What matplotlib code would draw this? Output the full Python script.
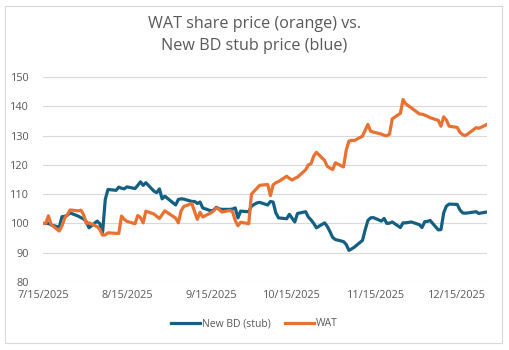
import matplotlib
matplotlib.use('Agg')
import matplotlib.pyplot as plt
import matplotlib.dates as mdates
from matplotlib.patches import Rectangle
import pandas as pd

# trading days, 7/15/2025 .. 12/26/2025
holidays = ['2025-09-01', '2025-11-27', '2025-12-25']
dates = pd.bdate_range('2025-07-15', '2025-12-26', freq='C', holidays=holidays)

stub = [
    # Jul
    100.0, 100.0, 100.0, 99.5, 98.7, 102.3, 102.4, 102.8, 103.6, 102.5, 102.0, 101.5, 100.6,
    # Aug
    98.5, 100.8, 99.9, 96.8, 108.2, 111.6, 111.3, 112.4, 112.0, 111.8, 112.5,
    111.9, 113.0, 114.2, 113.0, 113.9, 111.0, 110.5, 111.8, 108.4, 109.3,
    # Sep
    106.3, 108.2, 108.4, 108.3, 107.5, 107.5, 106.8, 107.3, 105.3, 104.3, 104.5,
    105.5, 105.0, 104.8, 104.8, 104.9, 105.3, 101.9, 104.2, 104.0, 105.9,
    # Oct
    106.5, 107.0, 107.2, 106.3, 107.5, 107.3, 103.6, 101.9, 101.6, 103.1, 101.8, 100.5,
    103.4, 104.0, 102.2, 101.2, 100.0, 98.5, 100.2, 99.0, 97.2, 95.2, 94.5,
    # Nov
    93.8, 92.8, 90.8, 91.3, 91.9, 94.2, 97.8, 101.0, 101.9, 102.0,
    100.8, 101.7, 100.0, 100.1, 100.5, 98.6, 100.2, 100.2, 100.5,
    # Dec
    99.6, 98.6, 100.6, 100.7, 101.0, 97.8, 97.9, 103.6, 105.9, 106.6,
    106.5, 104.6, 103.6, 103.5, 103.6, 104.0, 103.4, 103.6, 103.9,
]

wat = [
    # Jul
    100.0, 100.0, 102.6, 99.6, 97.4, 99.2, 101.8, 103.0, 104.6, 104.3, 104.5, 103.0, 100.0,
    # Aug
    100.2, 98.9, 97.9, 96.0, 96.1, 96.8, 96.6, 96.6, 102.5, 101.4, 100.7,
    99.9, 102.7, 102.0, 100.2, 104.2, 103.2, 102.4, 101.7, 103.0, 104.3,
    # Sep
    101.8, 100.2, 104.3, 105.8, 106.8, 104.0, 101.4, 103.8, 102.2, 103.6, 104.3,
    105.3, 104.8, 103.9, 104.4, 104.0, 101.0, 99.2, 100.4, 99.9, 110.0,
    # Oct
    111.0, 112.0, 113.0, 113.3, 109.5, 113.2, 113.9, 114.3, 116.1, 115.4, 114.8, 115.4,
    115.8, 118.3, 120.0, 120.4, 123.0, 124.3, 121.5, 119.5, 118.9, 118.4, 120.7,
    # Nov
    119.3, 125.0, 128.1, 128.4, 128.3, 129.8, 131.8, 133.8, 131.5, 131.2,
    130.5, 130.1, 129.9, 130.5, 135.7, 137.6, 142.3, 140.8, 139.5,
    # Dec
    137.4, 137.3, 137.0, 136.6, 136.1, 135.2, 133.2, 136.4, 135.3, 133.2,
    132.8, 131.1, 130.3, 130.0, 130.6, 132.7, 132.5, 132.9, 133.8,
]

tick_dates = pd.to_datetime(['2025-07-15', '2025-08-15', '2025-09-15',
                             '2025-10-15', '2025-11-15', '2025-12-15'])

BLUE = '#156082'
ORANGE = '#E97132'
TEXT = '#595959'
GRID = '#d9d9d9'

plt.rcParams['font.family'] = ['Open Sans', 'DejaVu Sans']

fig = plt.figure(figsize=(5.09, 3.5), dpi=100)
ax = fig.add_axes([43 / 509, 1 - 282 / 350, 444 / 509, 205 / 350])

ax.plot(dates, stub, color=BLUE, lw=2.3, label='New BD (stub)', solid_joinstyle='round')
ax.plot(dates, wat, color=ORANGE, lw=2.3, label='WAT', solid_joinstyle='round')

ax.set_ylim(80, 150)
ax.set_yticks(range(80, 151, 10))
ax.set_xlim(dates[0], dates[-1])
ax.set_xticks(tick_dates)
ax.xaxis.set_major_formatter(
    plt.FuncFormatter(lambda v, _: (lambda d: f'{d.month}/{d.day}/{d.year}')(mdates.num2date(v))))

ax.grid(axis='y', color=GRID, lw=0.8)
ax.set_axisbelow(True)
for s in ax.spines.values():
    s.set_visible(False)
ax.tick_params(length=0, labelsize=7.8, labelcolor=TEXT)
ax.tick_params(axis='x', pad=6)
ax.tick_params(axis='y', pad=10)

fig.text(0.5, 1 - 35 / 350, 'WAT share price (orange) vs.\nNew BD stub price (blue)',
         ha='center', va='center', fontsize=11.6, color=TEXT, linespacing=1.45)

fig.legend(loc='center', bbox_to_anchor=(0.5, 1 - 324 / 350), ncol=2, frameon=False,
           fontsize=7.5, handlelength=2.8, handletextpad=0.2, columnspacing=1.3,
           labelcolor=TEXT)

fig.patches.append(Rectangle((5 / 509, 7 / 350), 497 / 509, 337 / 350,
                             transform=fig.transFigure, fill=False, ec=GRID, lw=0.8))

fig.savefig('out.png', dpi=100)
